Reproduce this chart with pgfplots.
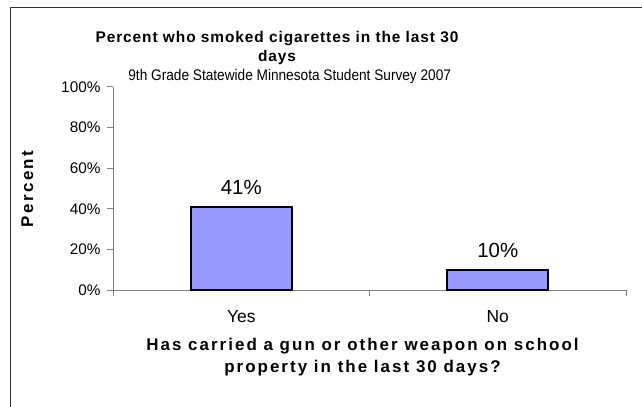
\documentclass[border=0pt]{standalone}
\usepackage{pgfplots}
\pgfplotsset{compat=1.18}
\usepackage{fontspec}
\setmainfont{Liberation Sans}
\newfontfamily\titlefont[LetterSpace=6]{Liberation Sans}
\newfontfamily\labelfont[LetterSpace=12]{Liberation Sans}
\newfontfamily\ylabfont[LetterSpace=14]{Liberation Sans}
\definecolor{barfill}{HTML}{9999FF}
\begin{document}
\begin{tikzpicture}[x=1bp,y=1bp]
\useasboundingbox (0,0) rectangle (642,406);
\begin{scope}
\clip (0,0) rectangle (642,406);
\draw[line width=1.3bp, black!80] (10.3,-20) -- (10.3,398.7) -- (660,398.7);
\end{scope}
\begin{axis}[
  at={(113bp,116bp)}, anchor=south west,
  scale only axis, width=513bp, height=203bp,
  xmin=-0.5, xmax=1.5, ymin=0, ymax=100,
  axis x line*=bottom, axis y line*=left,
  axis line style={black!50, line width=1bp},
  xtick={0,1}, xticklabels={Yes,No},
  minor xtick={-0.5,0.5,1.5},
  ytick={0,20,40,60,80,100},
  yticklabel={\pgfmathprintnumber{\tick}\%},
  tick align=outside,
  major tick length=6bp, minor tick length=6bp,
  x tick style={draw=none},
  minor x tick style={draw=black!50, line width=1bp},
  y tick style={black!50, line width=1bp},
  yticklabel style={font=\fontsize{15.4}{17}\selectfont, xshift=-3bp},
  xticklabel style={font=\fontsize{17.5}{20}\selectfont, anchor=base, yshift=-26.9bp},
  /pgf/number format/assume math mode=true,
  clip=false,
  nodes near coords={\pgfmathprintnumber{\pgfplotspointmeta}\%},
  nodes near coords style={font=\fontsize{20.5}{23}\selectfont, anchor=base, inner sep=0pt, yshift=12bp},
]
\addplot[ybar, bar width=101bp, fill=barfill, draw=black, line width=2bp]
  coordinates {(0,41) (1,10)};
\end{axis}
\node[font=\titlefont\bfseries\fontsize{15.5}{18}\selectfont, anchor=base] at (277,363.3)
  {Percent who smoked cigarettes in the last 30};
\node[font=\titlefont\bfseries\fontsize{15.5}{18}\selectfont, anchor=base] at (277,345)
  {days};
\node[font=\fontsize{15.4}{17}\selectfont, anchor=base] at (289.7,326)
  {\scalebox{0.89}[1]{9th Grade Statewide Minnesota Student Survey 2007}};
\node[font=\ylabfont\bfseries\fontsize{17}{20}\selectfont, rotate=90, anchor=base] at (33,217)
  {Percent};
\node[font=\labelfont\bfseries\fontsize{17}{20}\selectfont, anchor=base] at (362.5,55.3)
  {Has carried a gun or other weapon on school};
\node[font=\labelfont\bfseries\fontsize{17}{20}\selectfont, anchor=base] at (362.5,33.3)
  {property in the last 30 days?};
\end{tikzpicture}
\end{document}
